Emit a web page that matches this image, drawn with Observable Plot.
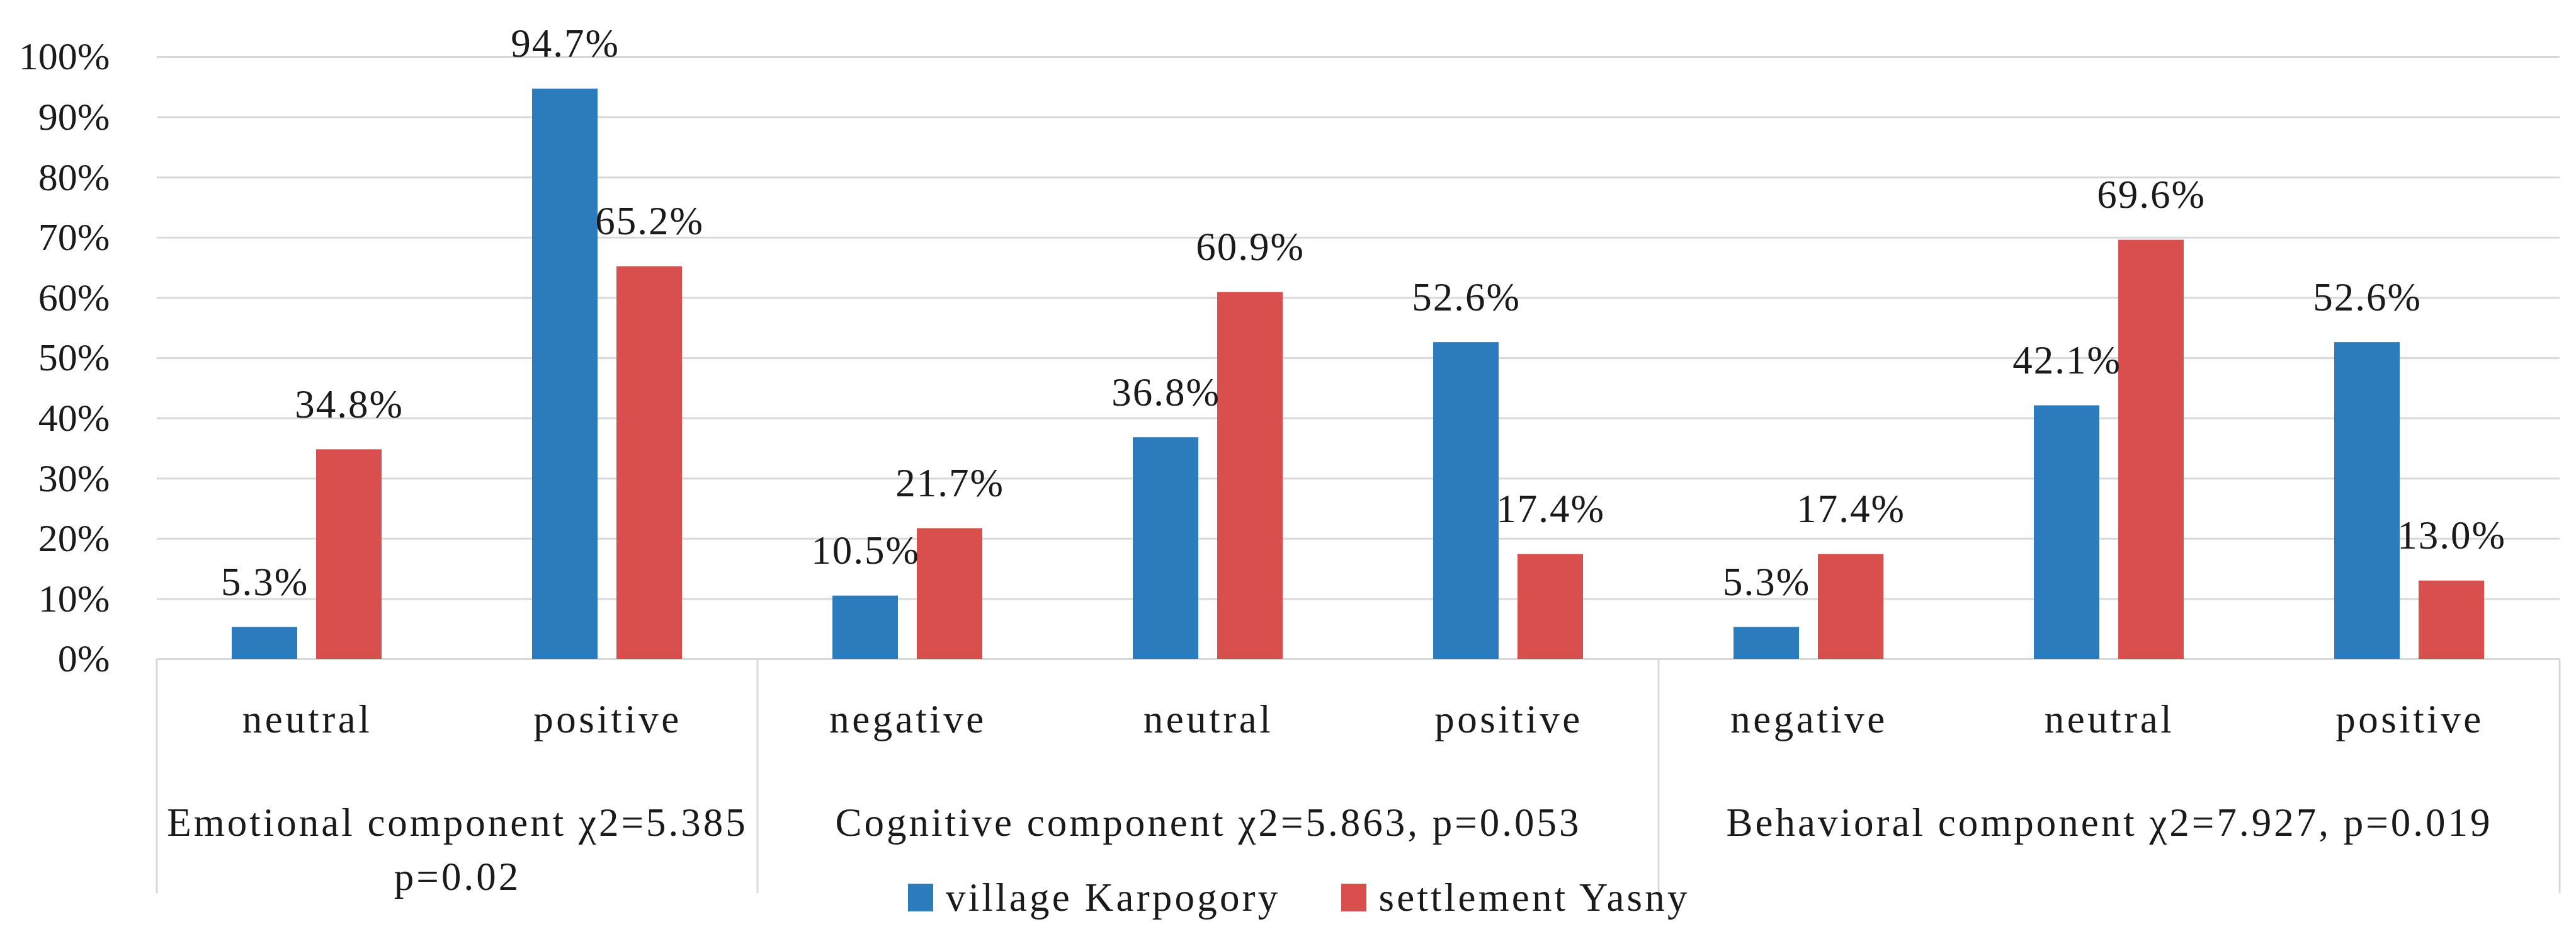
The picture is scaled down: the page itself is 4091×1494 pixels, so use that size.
<!DOCTYPE html>
<html>
<head>
<meta charset="utf-8">
<script src="https://cdn.jsdelivr.net/npm/d3@7"></script>
<script src="https://cdn.jsdelivr.net/npm/@observablehq/plot@0.6"></script>
<style>
  html, body { margin: 0; padding: 0; background: #fff; }
  #wrap { position: relative; width: 4091px; height: 1494px; }
  #legend { position: absolute; left: 1442px; top: 1389px; }
  #legend .leg-swatches { font-family: "Liberation Serif", serif; font-size: 63px; color: #1a1a1a; margin: 0; letter-spacing: 4.2px; line-height: 72px; }
  #legend .leg-swatch { margin-right: 96px; }
  #legend .leg-swatch > svg { margin-right: 20px; }
  g[aria-label="fx-axis tick label"] text { letter-spacing: 4.5px; }
</style>
</head>
<body>
<div id="wrap"></div>
<script>
// ---- data ----
const groupNames = [
  "Emotional component χ2=5.385\np=0.02",
  "Cognitive component χ2=5.863, p=0.053",
  "Behavioral component χ2=7.927, p=0.019"
];
const categoryGroup = [0, 0, 1, 1, 1, 2, 2, 2];
const attitudes = ["neutral", "positive", "negative", "neutral", "positive", "negative", "neutral", "positive"];
const series = ["village Karpogory", "settlement Yasny"];
const karpogory = [5.3, 94.7, 10.5, 36.8, 52.6, 5.3, 42.1, 52.6];
const yasny = [34.8, 65.2, 21.7, 60.9, 17.4, 17.4, 69.6, 13.0];
const yTicks = [0, 10, 20, 30, 40, 50, 60, 70, 80, 90, 100];
const colors = ["#2b7bbd", "#d94f4e"];

// ---- tables ----
const cats = attitudes.map((_, i) => i);
const rows = [];
cats.forEach(i => {
  rows.push({cat: i, series: series[0], value: karpogory[i]});
  rows.push({cat: i, series: series[1], value: yasny[i]});
});
// group label anchored at the middle of each group's facets
const groupRows = groupNames.map((name, g) => {
  const members = cats.filter(i => categoryGroup[i] === g);
  const n = members.length;
  return {cat: members[Math.floor((n - 1) / 2)], label: name, even: n % 2 === 0};
});

const font = "Liberation Serif, serif";
const ink = "#1a1a1a";
const gridColor = "#d9d9d9";

const valueLabels = Plot.text(rows, {
  fx: "cat", x: "series", y: "value",
  text: d => d.value.toFixed(1) + "%",
  dy: -71, fontSize: 63, fill: ink, lineAnchor: "middle"
});
const groupLabelsEven = Plot.text(groupRows.filter(d => d.even), {
  fx: "cat", text: "label", frameAnchor: "bottom-right", textAnchor: "middle",
  lineAnchor: "top", dy: 219, fontSize: 63, lineHeight: 1.365, fill: ink
});
const groupLabelsOdd = Plot.text(groupRows.filter(d => !d.even), {
  fx: "cat", text: "label", frameAnchor: "bottom", textAnchor: "middle",
  lineAnchor: "top", dy: 219, fontSize: 63, lineHeight: 1.365, fill: ink
});

const chart = Plot.plot({
  width: 4091,
  height: 1494,
  marginLeft: 248,
  marginRight: 26,
  marginTop: 90,
  marginBottom: 448,
  style: {fontFamily: font, color: ink, background: "#fff", overflow: "visible"},
  fx: {domain: cats, padding: 0},
  x: {domain: series, paddingInner: 0.222, paddingOuter: 0.878, axis: null},
  y: {domain: [0, 100]},
  color: {domain: series, range: colors},
  marks: [
    Plot.ruleY(yTicks, {stroke: gridColor, strokeWidth: 3}),
    Plot.axisY({ticks: yTicks, tickFormat: d => d + "%", tickSize: 0, tickPadding: 75, fontSize: 62, label: null}),
    Plot.barY(rows, {fx: "cat", x: "series", y: "value", fill: "series"}),
    valueLabels,
    Plot.axisFx({anchor: "bottom", tickSize: 0, tickPadding: 72, fontSize: 63, tickFormat: i => attitudes[i], label: null}),
    groupLabelsEven,
    groupLabelsOdd
  ]
});

// letter spacing to approach the wider book face of the original
const textGroups = d3.select(chart).selectAll('g[aria-label="text"]').nodes();
textGroups.forEach((g, k) => {
  d3.select(g).selectAll("text").style("letter-spacing", k === 0 ? "2px" : "4px");
});

// category box: vertical separators between groups, drawn from Plot's own fx / y scales
const fxs = chart.scale("fx");
const ys = chart.scale("y");
const boxDepth = 372;
const y0 = ys.apply(0);
const edges = [];
cats.forEach(i => { if (i === 0 || categoryGroup[i] !== categoryGroup[i - 1]) edges.push(fxs.apply(i)); });
edges.push(fxs.apply(cats[cats.length - 1]) + fxs.bandwidth);
d3.select(chart).append("g").attr("aria-label", "group separators")
  .selectAll("line").data(edges).join("line")
  .attr("x1", d => d).attr("x2", d => d)
  .attr("y1", y0).attr("y2", y0 + boxDepth)
  .attr("stroke", gridColor).attr("stroke-width", 3);

const wrap = document.getElementById("wrap");
wrap.appendChild(chart);

const legend = chart.legend("color", {swatchWidth: 40, swatchHeight: 44, className: "leg"});
const legDiv = document.createElement("div");
legDiv.id = "legend";
legDiv.appendChild(legend);
wrap.appendChild(legDiv);
</script>
</body>
</html>
